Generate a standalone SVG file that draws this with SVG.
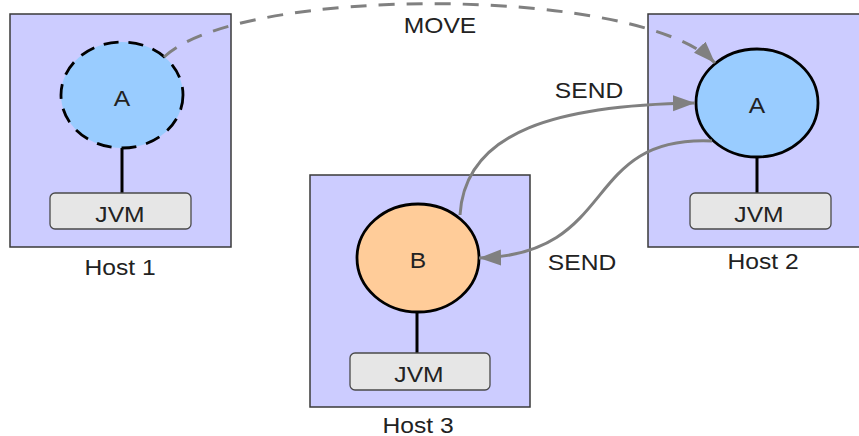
<svg xmlns="http://www.w3.org/2000/svg" width="859" height="436" viewBox="0 0 859 436">
  <style>
    .host { fill: #ccccff; stroke: #3a3a3a; stroke-width: 1.5; }
    .agentA { fill: #99ccff; }
    .agentB { fill: #ffcc99; }
    .ring { stroke: #000; stroke-width: 2.8; }
    .dashed { stroke-dasharray: 15 10; }
    .stem { stroke: #000; stroke-width: 3; }
    .jvm { fill: #e6e6e6; stroke: #4a4a4a; stroke-width: 1.3; }
    .lbl { font-family: "Liberation Sans", Arial, sans-serif; font-size: 22px; fill: #222; text-anchor: middle; }
    .conn { fill: none; stroke: #808080; stroke-width: 3; }
    .move { stroke-dasharray: 16 12; }
  </style>
  <defs>
    <marker id="arrow" markerUnits="userSpaceOnUse" markerWidth="24" markerHeight="18" refX="22" refY="8" orient="auto">
      <path d="M0,0 L22,8 L0,16 Z" fill="#808080"/>
    </marker>
  </defs>

  <rect width="859" height="436" fill="#ffffff"/>

  <!-- Host 1 -->
  <g id="host1">
    <rect class="host" x="10" y="14" width="221" height="233"/>
    <line class="stem" x1="122" y1="148" x2="122" y2="193"/>
    <ellipse class="agentA ring dashed" cx="122" cy="95" rx="61" ry="53"/>
    <text class="lbl" transform="translate(122,106) scale(1.12 1)">A</text>
    <rect class="jvm" x="50" y="193" width="141" height="36" rx="5"/>
    <text class="lbl" transform="translate(120,222) scale(1.12 1)">JVM</text>
    <text class="lbl" transform="translate(120,275) scale(1.12 1)">Host 1</text>
  </g>

  <!-- Host 2 -->
  <g id="host2">
    <rect class="host" x="648" y="14" width="222" height="233"/>
    <line class="stem" x1="757" y1="157" x2="757" y2="193"/>
    <ellipse class="agentA ring" cx="757" cy="103" rx="61" ry="54"/>
    <text class="lbl" transform="translate(757,113) scale(1.12 1)">A</text>
    <rect class="jvm" x="690" y="193" width="141" height="36" rx="5"/>
    <text class="lbl" transform="translate(759,222) scale(1.12 1)">JVM</text>
    <text class="lbl" transform="translate(763,269) scale(1.12 1)">Host 2</text>
  </g>

  <!-- Host 3 -->
  <g id="host3">
    <rect class="host" x="310" y="175" width="220" height="232"/>
    <line class="stem" x1="417" y1="312" x2="417" y2="353"/>
    <ellipse class="agentB ring" cx="418" cy="258" rx="61" ry="54"/>
    <text class="lbl" transform="translate(418,268) scale(1.12 1)">B</text>
    <rect class="jvm" x="350" y="353" width="140" height="37" rx="5"/>
    <text class="lbl" transform="translate(419,382) scale(1.12 1)">JVM</text>
    <text class="lbl" transform="translate(418,433) scale(1.12 1)">Host 3</text>
  </g>

  <!-- Connectors -->
  <g id="connectors">
    <path class="conn move" d="M164,57 C240,-15 640,-15 715,63" marker-end="url(#arrow)"/>
    <path class="conn" d="M460,215 C465,130 560,105 695,103" marker-end="url(#arrow)"/>
    <path class="conn" d="M712,141 C580,135 620,255 479,258" marker-end="url(#arrow)"/>
    <text class="lbl" transform="translate(440,33) scale(1.12 1)">MOVE</text>
    <text class="lbl" transform="translate(589,98) scale(1.12 1)">SEND</text>
    <text class="lbl" transform="translate(582,270) scale(1.12 1)">SEND</text>
  </g>
</svg>
